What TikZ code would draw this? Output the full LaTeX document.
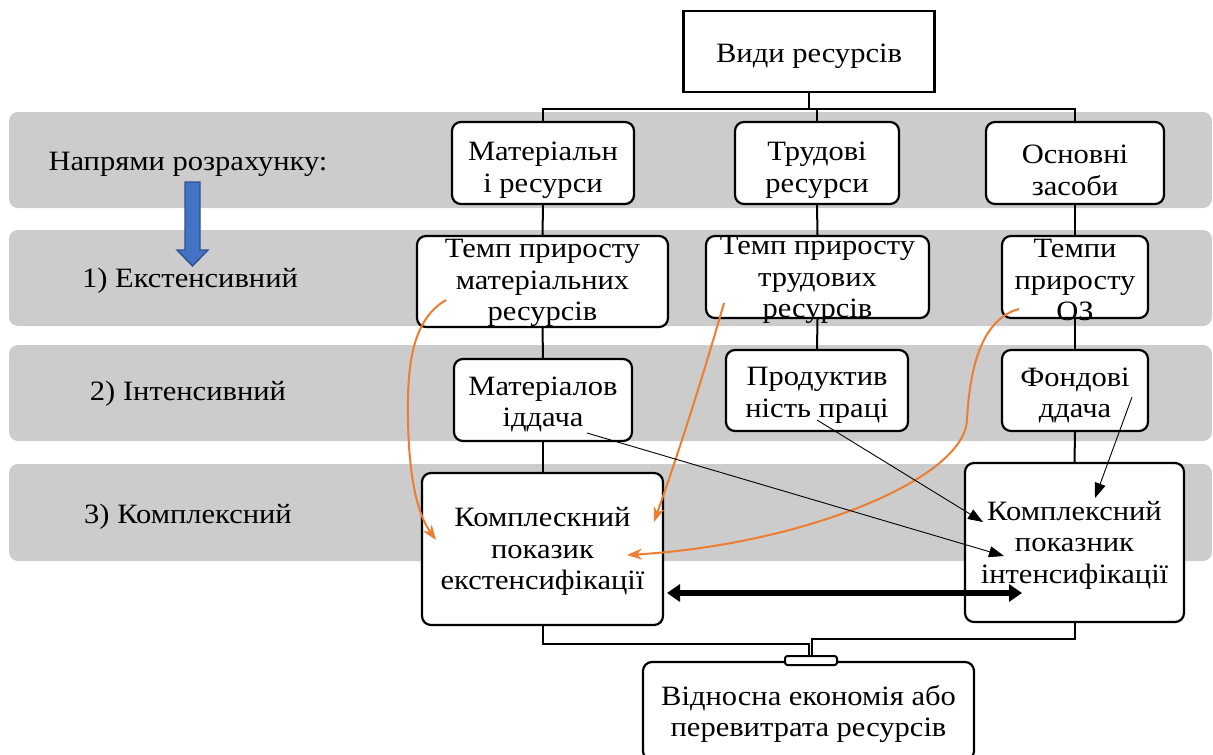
\documentclass[tikz,border=0pt]{standalone}
\usepackage{fontspec}
\setmainfont{Liberation Serif}[FakeStretch=1.09]
\usetikzlibrary{arrows.meta}
\definecolor{bandgray}{RGB}{204,204,204}
\definecolor{accent}{RGB}{237,125,49}
\definecolor{blufill}{RGB}{68,114,196}
\definecolor{bluedge}{RGB}{47,82,143}
% invisible strut that sets the height of a node's first line
\newcommand{\padtop}[1]{\rule{0pt}{#1}}
\tikzset{
  band/.style={fill=bandgray, draw=none, rounded corners=9pt},
  txt/.style={align=center, inner sep=0pt, font=\fontsize{28}{31.5}\selectfont},
  rbox/.style={txt, draw, line width=2.2pt, rounded corners=9pt, fill=white},
  sbox/.style={txt, draw, line width=2.2pt, fill=white},
  rowlabel/.style={txt},
  tree/.style={line width=2pt},
  flow/.style={draw=accent, line width=2pt, -{Stealth[length=15pt,width=11pt]}},
  link/.style={line width=0.9pt, -{Triangle[length=15pt,width=11pt]}},
  both/.style={line width=6.5pt, {Triangle[length=13pt,width=17pt]}-{Triangle[length=13pt,width=17pt]}}
}
\begin{document}
\begin{tikzpicture}[x=1pt,y=-1pt]
\useasboundingbox (0,0) rectangle (1213,755);
\clip (0,0) rectangle (1213,755);

% grey row bands
\fill[band] (9,112) rectangle (1212,208);
\fill[band] (9,230) rectangle (1212,326);
\fill[band] (9,345) rectangle (1212,441);
\fill[band] (9,464) rectangle (1212,561);

% row captions
\node[rowlabel] (capA) at (188,164) {Напрями розрахунку:};
\node[rowlabel] (capB) at (190,281) {1) Екстенсивний};
\node[rowlabel] (capC) at (188,394) {2) Інтенсивний};
\node[rowlabel] (capD) at (188,517) {3) Комплексний};

% blue down arrow
\filldraw[fill=blufill, draw=bluedge, line width=1.4pt, line join=miter]
  (185,182) -- (200,182) -- (200,250) -- (208,250) -- (192.5,266) -- (177,250) -- (185,250) -- cycle;

% boxes
\node[sbox, minimum width=251pt, minimum height=81pt] (top) at (809,51.5) {\padtop{28pt}Види ресурсів};

\node[rbox, minimum width=182pt, minimum height=82pt] (m1) at (543,163) {\padtop{33pt}Матеріальн\\і ресурси};
\node[rbox, minimum width=164pt, minimum height=82pt] (t1) at (817,163) {\padtop{33pt}Трудові\\ресурси};
\node[rbox, minimum width=178pt, minimum height=82pt] (o1) at (1075,163) {\padtop{33pt}Основні\\засоби};

% growth-rate boxes: the three-line texts run over the frames
\node[rbox, minimum width=251pt, minimum height=91pt] (m2) at (542.5,281.5) {};
\node[rbox, minimum width=223pt, minimum height=82pt] (t2) at (817.5,277) {};
\node[rbox, minimum width=146pt, minimum height=82pt] (o2) at (1075,277) {};
\node[txt] (m2text) at (542.5,283) {Темп приросту\\матеріальних\\ресурсів};
\node[txt] (t2text) at (817.5,280) {Темп приросту\\трудових\\ресурсів};
\node[txt] (o2text) at (1075,280) {Темпи\\приросту\\ОЗ};

\node[rbox, minimum width=178pt, minimum height=82pt] (m3) at (543,400) {\padtop{27pt}Матеріалов\\іддача};
\node[rbox, minimum width=182pt, minimum height=81pt] (t3) at (817,390.5) {\padtop{28pt}Продуктив\\ність праці};
\node[rbox, minimum width=146pt, minimum height=81pt] (o3) at (1075,390.5) {\padtop{28pt}Фондові\\ддача};

\node[rbox, minimum width=241pt, minimum height=152pt] (m4) at (542.5,549) {\padtop{24pt}Комплескний\\показик\\екстенсифікації};
\node[rbox, minimum width=219pt, minimum height=159pt] (o4) at (1074.5,542.5) {\padtop{24pt}Комплексний\\показник\\інтенсифікації};

\node[rbox, minimum width=331pt, minimum height=98pt] (res) at (808.5,711) {\padtop{26pt}Відносна економія або\\перевитрата ресурсів};

% tree connectors
\draw[tree] (top.south) -- ++(0,15.5) coordinate (hub);
\draw[tree] (m1.north) |- (hub) -| (o1.north);
\draw[tree] (t1.north) -- (t1.north |- hub);
\draw[tree] (m1.south) -- (m2.north);
\draw[tree] (t1.south) -- (t2.north);
\draw[tree] (o1.south) -- (o2.north);
\draw[tree] (m2.south) -- (m3.north);
\draw[tree] (t2.south) -- (t3.north);
\draw[tree] (o2.south) -- (o3.north);
\draw[tree] (m3.south) -- (m3.south |- m4.north);
\draw[tree] (o3.south) -- (o4.north);

% junction above the result box
\node[draw, line width=2pt, rounded corners=2.5pt, fill=white, minimum width=52pt,
  minimum height=9pt, inner sep=0pt] (jn) at (811,660.5) {};
\draw[tree] (m4.south) -- ++(0,18) -| ([xshift=-2pt]jn.north);
\draw[tree] (o4.south) -- ++(0,16) -| ([xshift=1pt]jn.north);

% orange links into the extensification index
\coordinate (fa) at (446,300);
\coordinate (fb) at (724,303);
\coordinate (fc) at (1019,309);
\coordinate (ea) at (436,540);
\coordinate (eb) at (654,522);
\coordinate (ec) at (627,555);
\draw[flow] (fa) .. controls (412,320) and (407,365) .. (408,420)
  .. controls (409,480) and (418,515) .. (ea);
\draw[flow] (fb) .. controls (702,380) and (676,460) .. (eb);
\draw[flow] (fc) .. controls (985,318) and (970,360) .. (967,420)
  .. controls (964,480) and (800,545) .. (ec);

% black links into the intensification index
\coordinate (ia) at (587,433);
\coordinate (ib) at (817,420);
\coordinate (ic) at (1132,397);
\coordinate (ja) at (1004,556);
\coordinate (jb) at (983,522);
\coordinate (jc) at (1095,498);
\draw[link] (ia) -- (ja);
\draw[link] (ib) -- (jb);
\draw[link] (ic) -- (jc);

% two-way relation between the indices
\coordinate (ba) at (667,593);
\coordinate (bb) at (1022,593);
\draw[both] (ba) -- (bb);
\end{tikzpicture}
\end{document}
